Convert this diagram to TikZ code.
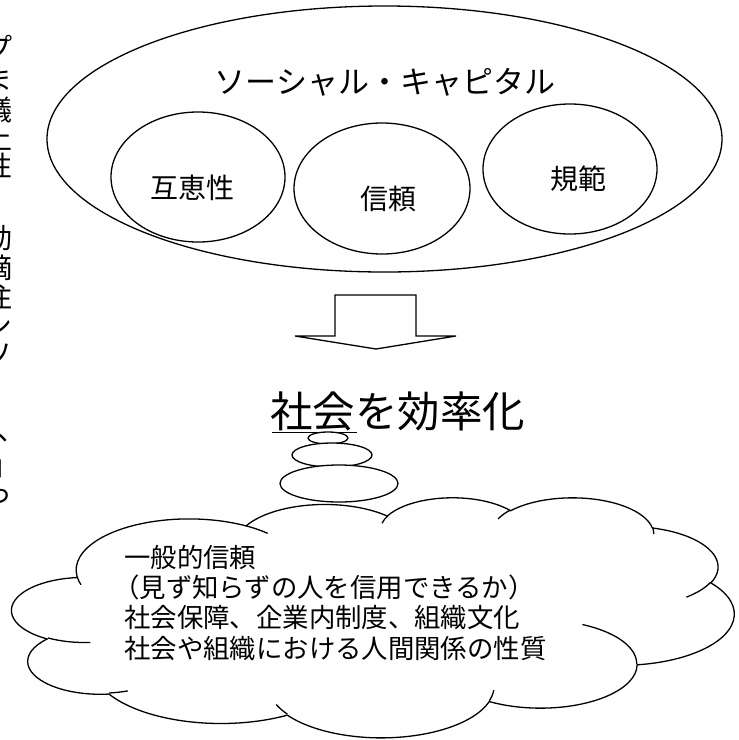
\documentclass[tikz,border=0pt]{standalone}
\usepackage{fontspec}
\setmainfont{Noto Sans CJK JP}
% convert an OOXML arcTo (visual angles) into TikZ parametric start/end angles
\newcommand\ooang[5]{%
  \pgfmathsetmacro\ooaa{atan2((#2)*sin(#4),(#3)*cos(#4))}%
  \pgfmathsetmacro\oobb{atan2((#2)*sin((#4)+(#5)),(#3)*cos((#4)+(#5)))}%
  \pgfmathsetmacro\oocc{(\ooaa)+mod((\oobb)-(\ooaa)+720,360)}%
  \expandafter\let\csname cl#1s\endcsname\ooaa
  \expandafter\let\csname cl#1e\endcsname\oocc
}
\tikzset{
  outl/.style={draw=black, line width=1.3pt},
  cjk/.style={inner sep=0pt, text=black},
  edgech/.style={cjk, font=\fontsize{28}{28}\selectfont},
  lab/.style={cjk, font=\fontsize{28}{28}\selectfont, anchor=base},
  cloudtxt/.style={cjk, font=\fontsize{26.4}{26.4}\selectfont, anchor=base west},
}
\begin{document}
\begin{tikzpicture}[x=1pt, y=-1pt, line join=round]
\useasboundingbox (0,0) rectangle (739,740);
\fill[white] (0,0) rectangle (739,740);

% cut-off column of text at the left edge
\begin{scope}
\clip (0,0) rectangle (739,740);
\foreach \ch/\yy [count=\i] in {プ/47, ま/80, 議/110, 上/138, 性/166, 動/238, 摘/268, 注/297, シ/325, ソ/355}
  \node[edgech] (edge\i) at (-2,\yy) {\ch};
\node[edgech, anchor=base] (edgeA) at (12,440) {、};
\node[edgech, anchor=base] (edgeB) at (5,475) {」};
\node[edgech] (edgeC) at (-2,497) {っ};
\end{scope}

% social capital ellipse
\draw[outl] (384.5,139) ellipse [x radius=337.5, y radius=133];
\node[cjk, font=\fontsize{31}{31}\selectfont, anchor=base] (sc) at (385,93) {ソーシャル・キャピタル};
\draw[outl] (198,177) ellipse [x radius=87, y radius=65];
\draw[outl] (382,188.5) ellipse [x radius=88, y radius=65.5];
\draw[outl] (570,169) ellipse [x radius=87, y radius=65];
\node[lab] (gokei) at (192,198) {互恵性};
\node[lab] (shinrai) at (388,209) {信頼};
\node[lab] (kihan) at (578,189) {規範};

% block arrow
\draw[outl, line join=miter] (335,295) -- (416,295) -- (416,336) -- (456,336) -- (376,349) -- (295,336) -- (335,336) -- cycle;

% result
\node[cjk, font=\fontsize{42.5}{42.5}\selectfont, anchor=base west] (eff) at (270,427) {社会を効率化};
\draw[line width=1pt] ([xshift=2pt,yshift=-5pt]eff.base west) -- ++(85,0);

% cloud callout (OOXML cloudCallout geometry, units of 100)
\ooang{A}{67.53}{91.90}{-190.48748}{123.78053}
\ooang{B}{53.33}{72.67}{-144.10238}{89.94523}
\ooang{C}{43.65}{59.45}{-145.80792}{99.72302}
\ooang{D}{48.57}{65.95}{-130.98607}{117.24173}
\ooang{E}{53.33}{72.73}{-78.70888}{109.02692}
\ooang{F}{67.75}{92.20}{-46.26725}{130.269}
\ooang{G}{57.85}{78.67}{0.62502}{114.03333}
\ooang{H}{67.52}{92.15}{22.4516}{115.17255}
\ooang{I}{77.20}{105.43}{66.24263}{75.71102}
\ooang{J}{43.60}{59.18}{-274.94208}{146.73557}
\ooang{K}{43.45}{59.45}{-246.8285}{152.51885}
\ooang{a}{43.45}{59.45}{86.742}{26.4295}
\ooang{b}{43.60}{59.18}{73.61047}{11.44747}
\ooang{c}{67.52}{92.15}{137.62415}{14.0811}
\ooang{d}{67.52}{92.15}{6.45327}{15.99835}
\ooang{e}{57.85}{78.67}{-70.29235}{70.91737}
\ooang{f}{53.33}{72.73}{30.31803}{27.7515}
\ooang{g}{48.57}{65.95}{-13.74433}{14.8589}
\ooang{h}{48.57}{65.95}{-149.18145}{18.19537}
\ooang{i}{43.65}{59.45}{-163.49427}{17.68635}
\ooang{j}{67.53}{91.90}{-66.70695}{12.31935}
\ooang{k}{67.53}{91.90}{157.65435}{11.85817}
\begin{scope}[shift={(12,497)}, xscale=1.671296, yscale=0.555556]
  \draw[outl, fill=white] (39,143.7)
    arc [x radius=67.53, y radius=91.90, start angle=\clAs, end angle=\clAe]
    arc [x radius=53.33, y radius=72.67, start angle=\clBs, end angle=\clBe]
    arc [x radius=43.65, y radius=59.45, start angle=\clCs, end angle=\clCe]
    arc [x radius=48.57, y radius=65.95, start angle=\clDs, end angle=\clDe]
    arc [x radius=53.33, y radius=72.73, start angle=\clEs, end angle=\clEe]
    arc [x radius=67.75, y radius=92.20, start angle=\clFs, end angle=\clFe]
    arc [x radius=57.85, y radius=78.67, start angle=\clGs, end angle=\clGe]
    arc [x radius=67.52, y radius=92.15, start angle=\clHs, end angle=\clHe]
    arc [x radius=77.20, y radius=105.43, start angle=\clIs, end angle=\clIe]
    arc [x radius=43.60, y radius=59.18, start angle=\clJs, end angle=\clJe]
    arc [x radius=43.45, y radius=59.45, start angle=\clKs, end angle=\clKe]
    -- cycle;
  \draw[outl] (46.93,261.77) arc [x radius=43.45, y radius=59.45, start angle=\clas, end angle=\clae];
  \draw[outl] (69.28,348.99) arc [x radius=43.60, y radius=59.18, start angle=\clbs, end angle=\clbe];
  \draw[outl] (164.78,390.90) arc [x radius=67.52, y radius=92.15, start angle=\clcs, end angle=\clce];
  \draw[outl] (288.27,347.51) arc [x radius=67.52, y radius=92.15, start angle=\clds, end angle=\clde];
  \draw[outl] (341.29,229.54) arc [x radius=57.85, y radius=78.67, start angle=\cles, end angle=\clee];
  \draw[outl] (417.98,153.54) arc [x radius=53.33, y radius=72.73, start angle=\clfs, end angle=\clfe];
  \draw[outl] (383.24,54.26) arc [x radius=48.57, y radius=65.95, start angle=\clgs, end angle=\clge];
  \draw[outl] (290.78,39.52) arc [x radius=48.57, y radius=65.95, start angle=\clhs, end angle=\clhe];
  \draw[outl] (221.41,47.20) arc [x radius=43.65, y radius=59.45, start angle=\clis, end angle=\clie];
  \draw[outl] (140.00,51.92) arc [x radius=67.53, y radius=91.90, start angle=\cljs, end angle=\clje];
  \draw[outl] (41.27,157.89) arc [x radius=67.53, y radius=91.90, start angle=\clks, end angle=\clke];
\end{scope}

% thought bubbles
\draw[outl, fill=white] (328,438) ellipse [x radius=20, y radius=6];
\draw[outl, fill=white] (332,455) ellipse [x radius=40, y radius=12];
\draw[outl, fill=white] (339,483.5) ellipse [x radius=59, y radius=18.5];

% cloud text
\node[cloudtxt] (l1) at (124,567) {一般的信頼};
\node[cloudtxt] (l2) at (113,597.4) {（見ず知らずの人を信用できるか）};
\node[cloudtxt] (l3) at (124,627.8) {社会保障、企業内制度、組織文化};
\node[cloudtxt] (l4) at (124,658.2) {社会や組織における人間関係の性質};
\end{tikzpicture}
\end{document}
